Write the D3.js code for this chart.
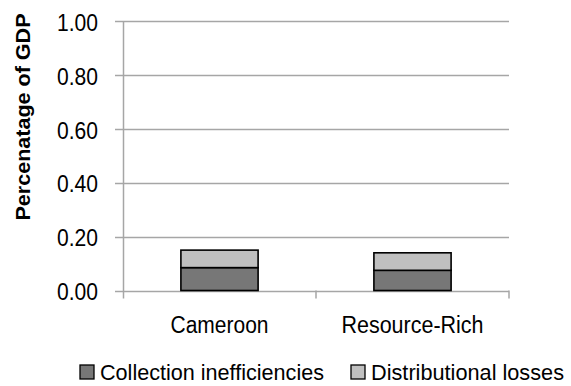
<!DOCTYPE html>
<html><head><meta charset="utf-8">
<script src="https://cdn.jsdelivr.net/npm/d3@7"></script>
<style>
body{margin:0;background:#fff;}
text{font-family:"Liberation Sans Narrow","Arial Narrow","Liberation Sans",Arial,sans-serif;}
</style></head>
<body>
<svg id="c" width="571" height="386"></svg>
<script>
const categories = ["Cameroon", "Resource-Rich"];
const seriesNames = ["Collection inefficiencies", "Distributional losses"];
const collection = [0.085, 0.075];
const distributional = [0.065, 0.065];
const yTicks = [0, 0.2, 0.4, 0.6, 0.8, 1.0];
const colors = ["#777777", "#c0c0c0"];

const svg = d3.select("#c");
const x0 = 123, x1 = 509, yTop = 21.3, yBot = 290.5;
const x = d3.scaleBand().domain(categories).range([x0, x1]).paddingInner(0).paddingOuter(0);
const y = d3.scaleLinear().domain([0, 1]).range([yBot, yTop]);

// gridlines
svg.append("g").selectAll("line").data(yTicks).join("line")
  .attr("x1", x0 - 8).attr("x2", x1)
  .attr("y1", d => Math.round(y(d)) + 0.5).attr("y2", d => Math.round(y(d)) + 0.5)
  .attr("stroke", "#a6a6a6").attr("stroke-width", 1.5);

// y axis line
svg.append("line").attr("x1", x0 + 0.5).attr("x2", x0 + 0.5)
  .attr("y1", yTop).attr("y2", yBot + 8)
  .attr("stroke", "#a6a6a6").attr("stroke-width", 1.5);

// x axis category ticks
svg.append("g").selectAll("line").data([x(categories[1]), x1]).join("line")
  .attr("x1", d => d).attr("x2", d => d)
  .attr("y1", yBot).attr("y2", yBot + 8)
  .attr("stroke", "#a6a6a6").attr("stroke-width", 1.5);

// y tick labels
svg.append("g").selectAll("text").data(yTicks).join("text")
  .attr("x", 98).attr("y", d => y(d) + 1).attr("dy", "0.36em")
  .attr("text-anchor", "end").attr("font-size", 24).attr("fill", "#000")
  .attr("textLength", 41).attr("lengthAdjust", "spacingAndGlyphs")
  .text(d => d3.format(".2f")(d));

// stacked data
const rows = categories.map((c, i) => ({cat: c, a: collection[i], b: distributional[i]}));
const stack = d3.stack().keys(["a", "b"])(rows);
const bw = x.bandwidth() * 0.4;
svg.append("g").selectAll("g").data(stack).join("g")
  .attr("fill", (d, i) => colors[i])
  .selectAll("rect").data(d => d).join("rect")
  .attr("x", d => x(d.data.cat) + (x.bandwidth() - bw) / 2)
  .attr("width", bw)
  .attr("y", d => y(d[1]))
  .attr("height", d => y(d[0]) - y(d[1]))
  .attr("stroke", "#000").attr("stroke-width", 1.6);

// category labels
const catW = [98, 142];
svg.append("g").selectAll("text").data(categories).join("text")
  .attr("x", d => x(d) + x.bandwidth() / 2).attr("y", 333)
  .attr("text-anchor", "middle").attr("font-size", 23).attr("fill", "#000")
  .attr("textLength", (d, i) => catW[i]).attr("lengthAdjust", "spacingAndGlyphs")
  .text(d => d);

// y axis title
svg.append("text").attr("transform", "translate(30,117) rotate(-90)")
  .attr("text-anchor", "middle").attr("font-size", 21).attr("font-weight", "bold")
  .attr("textLength", 207).attr("lengthAdjust", "spacingAndGlyphs")
  .text("Percenatage of GDP");

// legend
const legX = [80, 351];
const legW = [224, 193];
const lg = svg.append("g").selectAll("g").data(seriesNames).join("g")
  .attr("transform", (d, i) => `translate(${legX[i]},365)`);
lg.append("rect").attr("width", 14).attr("height", 14)
  .attr("fill", (d, i) => colors[i]).attr("stroke", "#000").attr("stroke-width", 1.3);
lg.append("text").attr("x", 20).attr("y", 15).attr("font-size", 22)
  .attr("textLength", (d, i) => legW[i]).attr("lengthAdjust", "spacingAndGlyphs")
  .text(d => d);
</script>
</body></html>
